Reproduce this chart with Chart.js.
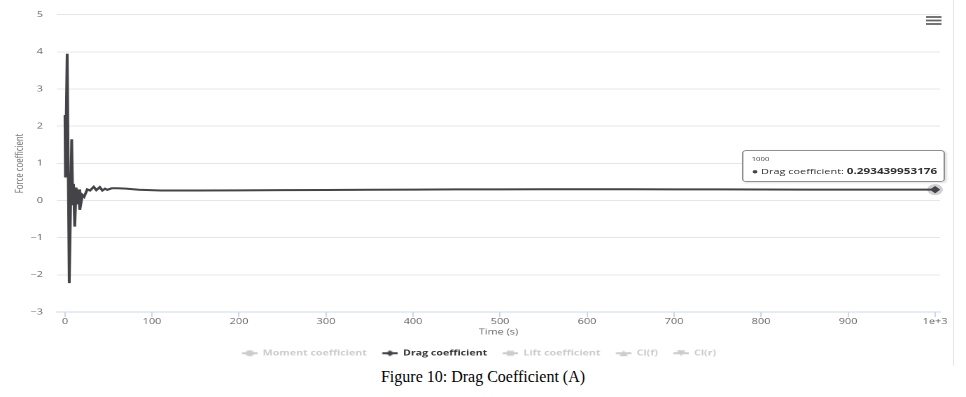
<!DOCTYPE html>
<html>
<head>
<meta charset="utf-8">
<script src="https://cdn.jsdelivr.net/npm/chart.js@4.4.0/dist/chart.umd.min.js"></script>
<style>
body{margin:0;background:#fff;width:966px;height:397px;overflow:hidden;position:relative}
#marco{position:absolute;left:0;top:0;width:953px;height:366px;border-right:1px solid #e6e6e6}
/* la figura original esta estirada en horizontal */
#caja{position:absolute;left:0;top:0;width:681px;height:367px;transform-origin:0 0;transform:scaleX(1.4)}
#pie{position:absolute;left:0;top:368px;width:966px;text-align:center;font-family:"Liberation Serif","Times New Roman",serif;font-size:16px;line-height:18px;color:#000}
#tip{position:absolute;z-index:5;background:rgba(255,255,255,0.96);border:1px solid #8f8f8f;border-radius:3px;padding:3px 5px 4.5px 6px;font-family:"Open Sans",sans-serif;color:#333;white-space:nowrap;box-shadow:1px 1px 2px rgba(0,0,0,0.12);pointer-events:none}
#tip .t{font-size:5.5px;line-height:11px}
#tip .b{font-size:7.8px;line-height:11px}
</style>
</head>
<body>
<div id="marco"></div>
<div id="caja"><canvas id="grafico"></canvas><div id="tip" style="display:none"></div></div>
<div id="pie">Figure 10: Drag Coefficient (A)</div>
<script>
//tiempos de la simulacion (s)
const tiempos = [0, 0.5, 2.5, 4.9, 7.7, 9, 9.8, 11.2, 12.8, 14, 15.5, 17, 20, 22, 25.6, 28.7, 33, 36, 40, 43, 46, 48.6, 53.6, 60, 70, 85, 110, 150, 200, 250, 300, 350, 400, 450, 500, 550, 600, 650, 700, 750, 800, 850, 900, 950, 1000];
//coeficiente de arrastre
const coefArrastre = [2.3, 0.62, 3.95, -2.22, 1.65, -0.1, 0.45, -0.7, 0.35, -0.1, 0.3, -0.25, 0.15, 0.1, 0.3, 0.27, 0.37, 0.28, 0.36, 0.27, 0.32, 0.29, 0.33, 0.33, 0.32, 0.29, 0.27, 0.27, 0.275, 0.28, 0.285, 0.29, 0.295, 0.3, 0.3, 0.305, 0.305, 0.305, 0.3, 0.3, 0.298, 0.295, 0.295, 0.294, 0.293439953176];
//series de la leyenda (solo la de arrastre esta visible)
const nombresSeries = ['Moment coefficient', 'Drag coefficient', 'Lift coefficient', 'Cl(f)', 'Cl(r)'];
const seriesVisibles = [false, true, false, false, false];
const ticksX = [0, 100, 200, 300, 400, 500, 600, 700, 800, 900, 1000];

const fuente = '"Open Sans", sans-serif';
const colorTexto = '#666666';
const colorSerie = '#434348';
const colorApagado = '#cccccc';
const formas = ['circle', 'diamond', 'square', 'triangle', 'triangleDown'];

//simbolo de leyenda: hueco + linea + marcador
function simbolo(color, forma) {
    const c = document.createElement('canvas');
    c.width = 20; c.height = 10;
    const g = c.getContext('2d');
    g.strokeStyle = color; g.lineWidth = 2;
    g.beginPath(); g.moveTo(9, 5); g.lineTo(20, 5); g.stroke();
    g.fillStyle = color;
    g.beginPath();
    const cx = 14.5, cy = 5, r = 3;
    if (forma === 'circle') g.arc(cx, cy, r, 0, Math.PI * 2);
    else if (forma === 'diamond') { g.moveTo(cx, cy - r); g.lineTo(cx + r, cy); g.lineTo(cx, cy + r); g.lineTo(cx - r, cy); }
    else if (forma === 'square') g.rect(cx - r + 0.5, cy - r + 0.5, 2 * r - 1, 2 * r - 1);
    else if (forma === 'triangle') { g.moveTo(cx, cy - r); g.lineTo(cx + r, cy + r); g.lineTo(cx - r, cy + r); }
    else { g.moveTo(cx - r, cy - r); g.lineTo(cx + r, cy - r); g.lineTo(cx, cy + r); }
    g.closePath(); g.fill();
    return c;
}

//halo gris alrededor del punto activo
const halo = {
    id: 'halo',
    beforeDatasetsDraw(chart) {
        const ctx = chart.ctx;
        chart.getActiveElements().forEach(a => {
            ctx.save();
            ctx.fillStyle = 'rgba(67,67,72,0.25)';
            ctx.beginPath();
            ctx.arc(a.element.x, a.element.y, 5.5, 0, Math.PI * 2);
            ctx.fill();
            ctx.restore();
        });
    }
};

//icono de menu arriba a la derecha
const menu = {
    id: 'menu',
    afterDraw(chart) {
        const ctx = chart.ctx;
        ctx.save();
        ctx.strokeStyle = '#666';
        ctx.lineWidth = 1.8;
        [17, 20.5, 24].forEach(y => {
            ctx.beginPath(); ctx.moveTo(661.5, y); ctx.lineTo(672.5, y); ctx.stroke();
        });
        ctx.restore();
    }
};

//tooltip en html (para poner el valor en negrita), colocado sobre el punto activo
const tooltipHtml = {
    id: 'tooltipHtml',
    afterDraw(chart) {
        const tip = document.getElementById('tip');
        const activos = chart.getActiveElements();
        if (!activos.length) { tip.style.display = 'none'; return; }
        const a = activos[0];
        const ds = chart.data.datasets[a.datasetIndex];
        const punto = ds.data[a.index];
        tip.innerHTML = '<div class="t">' + punto.x + '</div>' +
            '<div class="b"><span style="color:' + colorSerie + '">\u25CF</span> ' + ds.label +
            ': <b style="font-size:8.4px">' + punto.y + '</b></div>';
        tip.style.display = 'block';
        tip.style.left = (a.element.x + 8 - tip.offsetWidth) + 'px';
        tip.style.top = (a.element.y - 7 - tip.offsetHeight) + 'px';
    }
};

const datasets = nombresSeries.map((nombre, i) => ({
    label: nombre,
    data: seriesVisibles[i] ? tiempos.map((t, j) => ({x: t, y: coefArrastre[j]})) : [],
    hidden: !seriesVisibles[i],
    borderColor: colorSerie,
    backgroundColor: colorSerie,
    borderWidth: 2,
    pointRadius: 0,
    pointHoverRadius: 3,
    pointStyle: 'rectRot',
    pointHoverBackgroundColor: colorSerie,
    pointHoverBorderColor: colorSerie,
    pointHoverBorderWidth: 1,
    tension: 0
}));

const grafico = new Chart(document.getElementById('grafico'), {
    type: 'line',
    data: {datasets: datasets},
    plugins: [halo, menu, tooltipHtml],
    options: {
        responsive: true,
        maintainAspectRatio: false,
        devicePixelRatio: 2,
        animation: false,
        events: [],
        layout: {padding: {top: 6, right: 9.6, left: 4, bottom: 0}},
        scales: {
            x: {
                type: 'linear',
                min: -9.2,
                max: 1005.6,
                afterBuildTicks: axis => { axis.ticks = ticksX.map(v => ({value: v})); },
                afterFit: axis => { axis.height = 35.3; },
                ticks: {
                    color: colorTexto,
                    font: {family: fuente, size: 7.8},
                    padding: 0,
                    maxRotation: 0,
                    callback: v => v === 1000 ? '1e+3' : String(v)
                },
                grid: {drawOnChartArea: false, color: '#ccd6eb', tickLength: 5},
                border: {color: '#ccd6eb'},
                title: {display: true, text: 'Time (s)', color: colorTexto, font: {family: fuente, size: 7.8}, padding: {top: 0, bottom: 10.6}}
            },
            y: {
                min: -3,
                max: 5,
                afterFit: axis => { axis.width = 36.7; },
                ticks: {
                    stepSize: 1,
                    color: colorTexto,
                    font: {family: fuente, size: 7.8},
                    padding: 10,
                    callback: v => String(v).replace('-', '\u2212')
                },
                grid: {color: '#e6e6e6', drawTicks: false},
                border: {display: false},
                title: {display: true, text: 'Force coefficient', color: colorTexto, font: {family: fuente, size: 7.8}, padding: {top: 5.6, bottom: 0}}
            }
        },
        plugins: {
            legend: {
                position: 'bottom',
                onClick: () => {},
                labels: {
                    usePointStyle: true,
                    pointStyleWidth: 20,
                    padding: 2,
                    font: {family: fuente, size: 7.6, weight: 'bold'},
                    generateLabels: () => nombresSeries.map((nombre, i) => {
                        const color = seriesVisibles[i] ? '#333333' : colorApagado;
                        return {
                            text: nombre,
                            fontColor: color,
                            fillStyle: color,
                            strokeStyle: color,
                            lineWidth: 0,
                            hidden: false,
                            pointStyle: simbolo(seriesVisibles[i] ? colorSerie : colorApagado, formas[i]),
                            datasetIndex: i
                        };
                    })
                }
            },
            tooltip: {enabled: false}
        }
    }
});

//dejamos activo el ultimo punto, con su halo y su tooltip
const ultimo = tiempos.length - 1;
grafico.setActiveElements([{datasetIndex: 1, index: ultimo}]);
grafico.update();
</script>
</body>
</html>
